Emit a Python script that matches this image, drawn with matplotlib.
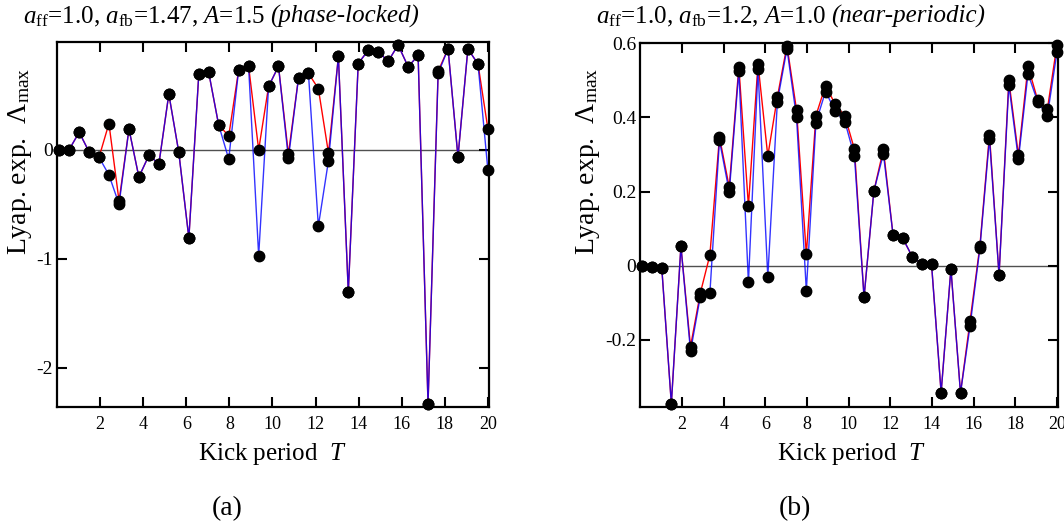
import matplotlib
matplotlib.use('Agg')
from matplotlib import pyplot as plt
from matplotlib.ticker import FuncFormatter

plt.rcParams['font.family'] = ['Liberation Serif', 'DejaVu Serif']
plt.rcParams['mathtext.fontset'] = 'custom'
plt.rcParams['mathtext.rm'] = 'Liberation Serif'
plt.rcParams['mathtext.it'] = 'Liberation Serif:italic'
plt.rcParams['mathtext.bf'] = 'Liberation Serif:bold'
plt.rcParams['axes.unicode_minus'] = False

# kick periods (same grid in both panels)
T = [0.10, 0.56, 1.03, 1.49, 1.95, 2.41, 2.88, 3.34, 3.80, 4.27,
     4.73, 5.19, 5.65, 6.12, 6.58, 7.04, 7.50, 7.97, 8.43, 8.89,
     9.36, 9.82, 10.28, 10.74, 11.21, 11.67, 12.13, 12.60, 13.06, 13.52,
     13.98, 14.44, 14.91, 15.37, 15.83, 16.30, 16.76, 17.22, 17.69, 18.15,
     18.61, 19.07, 19.54, 20.00]

# (a) phase-locked
lyap_a_red = [0.00, 0.00, 0.16, -0.02, -0.07, 0.24, -0.47, 0.19, -0.25, -0.05,
              -0.13, 0.51, -0.02, -0.81, 0.69, 0.71, 0.23, 0.125, 0.73, 0.77,
              0.00, 0.58, 0.765, -0.04, 0.66, 0.70, 0.56, -0.03, 0.855, -1.305,
              0.79, 0.91, 0.90, 0.81, 0.96, 0.76, 0.865, -2.33, 0.72, 0.925,
              -0.067, 0.925, 0.785, 0.19]
lyap_a_blue = [0.00, 0.00, 0.16, -0.02, -0.07, -0.23, -0.50, 0.19, -0.25, -0.05,
               -0.13, 0.51, -0.02, -0.81, 0.69, 0.71, 0.23, -0.085, 0.73, 0.77,
               -0.97, 0.58, 0.765, -0.08, 0.66, 0.70, -0.70, -0.10, 0.855, -1.305,
               0.79, 0.91, 0.90, 0.81, 0.96, 0.76, 0.865, -2.33, 0.70, 0.925,
               -0.067, 0.925, 0.785, -0.19]

# (b) near-periodic
lyap_b_red = [0.000, -0.003, -0.005, -0.372, 0.053, -0.218, -0.074, 0.029, 0.347, 0.212,
              0.537, 0.161, 0.545, 0.296, 0.455, 0.594, 0.420, 0.031, 0.405, 0.486,
              0.435, 0.404, 0.314, -0.085, 0.201, 0.314, 0.084, 0.074, 0.024, 0.006,
              0.004, -0.342, -0.008, -0.343, -0.148, 0.053, 0.354, -0.025, 0.500, 0.298,
              0.538, 0.448, 0.422, 0.596]
lyap_b_blue = [0.000, -0.003, -0.005, -0.372, 0.053, -0.231, -0.083, -0.074, 0.338, 0.199,
               0.525, -0.045, 0.530, -0.030, 0.443, 0.585, 0.400, -0.067, 0.386, 0.470,
               0.417, 0.389, 0.295, -0.085, 0.201, 0.302, 0.084, 0.074, 0.024, 0.006,
               0.004, -0.342, -0.008, -0.343, -0.162, 0.047, 0.343, -0.025, 0.488, 0.287,
               0.518, 0.443, 0.405, 0.576]

x_ticks = [2, 4, 6, 8, 10, 12, 14, 16, 18, 20]
yticks_a = [-2, -1, 0]
yticks_b = [-0.2, 0, 0.2, 0.4, 0.6]

W, H = 1064.0, 527.0


def draw_panel(ax, red, blue, ylim, yticks):
    ax.axhline(0, color='#505050', lw=1.0, zorder=1)
    ax.plot(T, red, color='red', lw=1.0, zorder=2)
    ax.plot(T, blue, color='blue', lw=1.0, alpha=0.8, zorder=3)
    ax.plot(T, red, 'o', color='black', ms=7.5, zorder=4, clip_on=False)
    ax.plot(T, blue, 'o', color='black', ms=7.5, zorder=4, clip_on=False)

    ax.set_xlim(0, 20.05)
    ax.set_ylim(*ylim)
    ax.set_xticks(x_ticks)
    ax.set_yticks(yticks)
    ax.yaxis.set_major_formatter(FuncFormatter(lambda v, p: '%g' % v))
    ax.tick_params(direction='in', length=7, width=1.5, top=True, right=True,
                   labelsize=13)
    ax.tick_params(axis='x', pad=7)
    ax.tick_params(axis='y', pad=3, labelsize=14)
    for s in ax.spines.values():
        s.set_linewidth(1.6)


def title(fig, x, head, tail):
    # upright/math part, then the italic remark right after it
    t = fig.text(x / W, 1 - 23 / H, head, fontsize=18, va='baseline', ha='left')
    bb = t.get_window_extent(renderer=fig.canvas.get_renderer())
    fig.text((bb.x1 + 5) / W, 1 - 23 / H, tail, fontsize=18, style='italic',
             va='baseline', ha='left')


def main():
    fig = plt.figure(figsize=(W / 100, H / 100), dpi=100)

    ax1 = fig.add_axes([57 / W, 1 - 406.7 / H, (489 - 57) / W, (406.7 - 41.7) / H])
    ax2 = fig.add_axes([640.3 / W, 1 - 406.7 / H, (1058 - 640.3) / W, (406.7 - 43.3) / H])

    draw_panel(ax1, lyap_a_red, lyap_a_blue, (-2.355, 0.99), yticks_a)
    draw_panel(ax2, lyap_b_red, lyap_b_blue, (-0.38, 0.6), yticks_b)

    title(fig, 23, r'$a_{\mathrm{ff}}$=1.0, $a_{\mathrm{fb}}$=1.47, $A$=1.5',
          '(phase-locked)')
    title(fig, 596, r'$a_{\mathrm{ff}}$=1.0, $a_{\mathrm{fb}}$=1.2, $A$=1.0',
          '(near-periodic)')

    ylab = r'Lyap. exp.  $\Lambda_{\mathrm{max}}$'
    fig.text(20 / W, 1 - 161 / H, ylab, rotation=90, fontsize=20,
             ha='center', va='center')
    fig.text(588 / W, 1 - 161 / H, ylab, rotation=90, fontsize=20,
             ha='center', va='center')

    fig.text(272 / W, 1 - 454 / H, r'Kick period  $T$', fontsize=18,
             ha='center', va='center')
    fig.text(851 / W, 1 - 454 / H, r'Kick period  $T$', fontsize=18,
             ha='center', va='center')

    fig.text(227 / W, 1 - 509 / H, '(a)', fontsize=20, ha='center', va='center')
    fig.text(795 / W, 1 - 509 / H, '(b)', fontsize=20, ha='center', va='center')

    fig.savefig('out.png', dpi=100)
    return 0


if __name__ == '__main__':
    exit(main())
